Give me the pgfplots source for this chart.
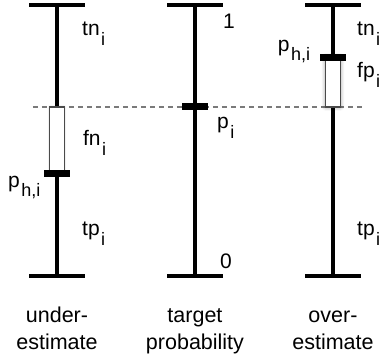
\documentclass[border=0pt]{standalone}
\usepackage{pgfplots}
\pgfplotsset{compat=1.18}
\usepackage{fontspec}
\setmainfont{Liberation Sans}
\usetikzlibrary{shadows.blur}

% label with a lowered subscript, set in text
\newcommand{\lab}[3][-10pt]{#2\kern1.5pt\raisebox{#1}{\fontsize{18}{18}\selectfont #3}}

\definecolor{boxedge}{HTML}{4A4A4A}
\definecolor{dashgray}{HTML}{7A7A7A}

\begin{document}
\begin{tikzpicture}
\begin{axis}[
  name=ax,
  width=385pt, height=358pt, scale only axis,
  hide axis, clip=false,
  xmin=-0.413, xmax=2.377,
  ymin=-0.3026, ymax=1.0185,
]
% target probability p_i
\addplot[dashgray, line width=1.2pt, dash pattern=on 5pt off 4pt]
  coordinates {(-0.174,0.624) (2.21,0.624)};

% the three probability scales 0..1 with end caps
\foreach \c in {0,1,2}{
  \edef\tmp{\noexpand\addplot[black, line width=3.6pt]
    coordinates {(\c,0) (\c,1)};
  \noexpand\addplot[black, line width=3.6pt]
    coordinates {(\c-0.2,1) (\c+0.2,1)};
  \noexpand\addplot[black, line width=3.6pt]
    coordinates {(\c-0.2,0) (\c+0.2,0)};}
  \tmp
}

% under-estimate: gap between p_{h,i} = 0.38 and p_i = 0.624
\addplot[draw=boxedge, line width=1.6pt, fill=white,
  blur shadow={shadow xshift=0pt, shadow yshift=0pt, shadow blur radius=2pt, shadow opacity=25}]
  coordinates {(-0.054,0.38) (0.054,0.38) (0.054,0.624) (-0.054,0.624)} --cycle;
% over-estimate: gap between p_i = 0.624 and p_{h,i} = 0.808
\addplot[draw=boxedge, line width=1.6pt, fill=white,
  blur shadow={shadow xshift=0pt, shadow yshift=0pt, shadow blur radius=4pt, shadow opacity=45}]
  coordinates {(1.946,0.624) (2.054,0.624) (2.054,0.808) (1.946,0.808)} --cycle;

% markers
\addplot[black, line width=7pt] coordinates {(-0.094,0.38) (0.094,0.38)};
\addplot[black, line width=7pt] coordinates {(0.906,0.624) (1.094,0.624)};
\addplot[black, line width=7pt] coordinates {(1.906,0.808) (2.094,0.808)};

% labels
\begin{scope}[every node/.style={anchor=base west, inner sep=0pt, font=\fontsize{21}{21}\selectfont}]
\node at (axis cs:0.181,0.889) {\lab{tn}{i}};
\node at (axis cs:0.188,0.483) {\lab{fn}{i}};
\node at (axis cs:0.181,0.151) {\lab{tp}{i}};
\node at (axis cs:-0.355,0.328) {\lab[-9pt]{p}{h,i}};

\node at (axis cs:1.203,0.915) {1};
\node at (axis cs:1.159,0.546) {\lab{p}{i}};
\node at (axis cs:1.181,0.026) {0};

\node at (axis cs:2.174,0.889) {\lab{tn}{i}};
\node at (axis cs:2.174,0.734) {\lab{fp}{i}};
\node at (axis cs:2.174,0.151) {\lab{tp}{i}};
\node at (axis cs:1.60,0.827) {\lab[-9pt]{p}{h,i}};
\end{scope}

\begin{scope}[every node/.style={anchor=base, inner sep=0pt, font=\fontsize{21.5}{21.5}\selectfont}]
\node at (axis cs:0,-0.173) {under-};
\node at (axis cs:0,-0.273) {estimate};
\node at (axis cs:1,-0.173) {target};
\node at (axis cs:1,-0.273) {probability};
\node at (axis cs:2,-0.173) {over-};
\node at (axis cs:2,-0.273) {estimate};
\end{scope}
\end{axis}
\pgfresetboundingbox
\path (ax.south west) rectangle (ax.north east);
\end{tikzpicture}
\end{document}
